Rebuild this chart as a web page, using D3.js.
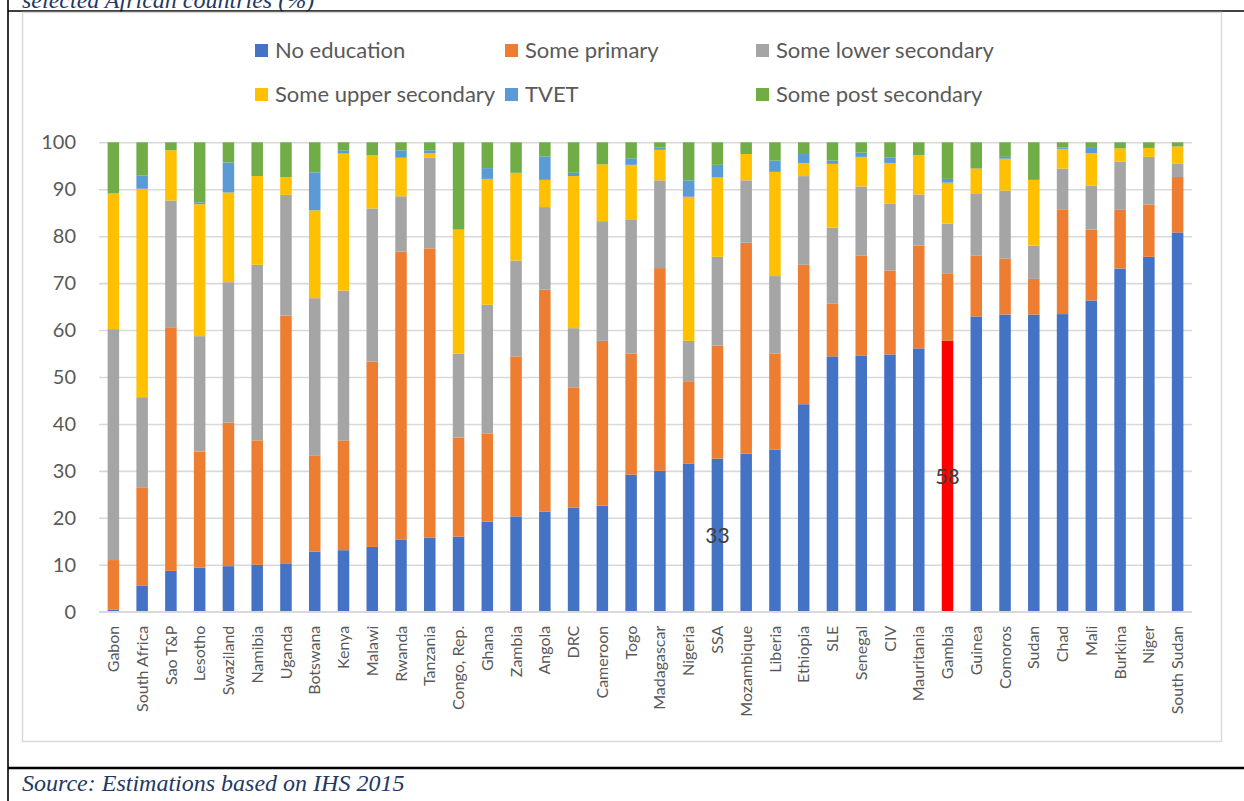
<!DOCTYPE html>
<html>
<head>
<meta charset="utf-8">
<script src="https://cdn.jsdelivr.net/npm/d3@7"></script>
<style>
  html, body { margin: 0; padding: 0; background: #fff; }
  svg { display: block; }
</style>
</head>
<body>
<svg id="chart" width="1244" height="801"></svg>
<script>
// Education attainment shares (%) by country, ordered by "No education"
const categories = ["Gabon","South Africa","Sao T&P","Lesotho","Swaziland","Namibia","Uganda","Botswana","Kenya","Malawi","Rwanda","Tanzania","Congo, Rep.","Ghana","Zambia","Angola","DRC","Cameroon","Togo","Madagascar","Nigeria","SSA","Mozambique","Liberia","Ethiopia","SLE","Senegal","CIV","Mauritania","Gambia","Guinea","Comoros","Sudan","Chad","Mali","Burkina","Niger","South Sudan"];

const noEducation = [0.4,5.5,8.7,9.4,9.7,10.0,10.3,12.8,13.1,13.8,15.4,15.8,16.0,19.2,20.3,21.3,22.2,22.6,29.2,30.0,31.5,32.6,33.7,34.5,44.2,54.4,54.5,54.8,56.1,57.7,62.9,63.3,63.3,63.4,66.3,73.1,75.6,80.8];
const somePrimary = [10.6,21.0,51.9,24.7,30.6,26.5,52.8,20.4,23.4,39.5,61.3,61.6,21.1,18.7,34.1,47.3,25.6,35.1,25.8,43.2,17.6,24.1,44.9,20.5,29.7,11.2,21.4,17.9,21.9,14.4,13.0,11.9,7.6,22.2,15.1,12.5,11.1,11.8];
const someLowerSecondary = [49.2,19.2,27.0,24.6,29.9,37.4,25.7,33.6,31.9,32.6,11.8,19.3,17.9,27.5,20.4,17.6,12.6,25.5,28.6,18.7,8.6,18.9,13.3,16.5,18.9,16.2,14.7,14.2,10.9,10.6,13.1,14.5,7.1,8.8,9.4,10.3,10.2,2.8];
const someUpperSecondary = [28.9,44.4,10.7,28.1,19.1,18.9,3.8,18.7,29.2,11.3,8.2,1.0,26.4,26.8,18.7,5.8,32.4,12.1,11.6,6.5,30.7,16.9,5.6,22.2,2.8,13.6,6.3,8.7,8.4,8.7,5.4,6.8,14.0,4.2,6.9,2.8,1.9,3.7];
const tvet = [0,2.8,0,0.4,6.4,0,0,8.1,0.7,0,1.6,0.6,0,2.3,0,5.0,0.7,0,1.4,0.5,3.5,2.7,0,2.4,1.9,0.7,0.9,1.2,0,0.8,0,0.4,0,0.3,1.1,0,0,0];
const somePostSecondary = [10.9,7.1,1.7,12.8,4.3,7.2,7.4,6.4,1.7,2.8,1.7,1.7,18.6,5.5,6.5,3.0,6.5,4.7,3.4,1.1,8.1,4.8,2.5,3.9,2.5,3.9,2.2,3.2,2.7,7.8,5.6,3.1,8.0,1.1,1.2,1.3,1.2,0.9];

const seriesNames = ["No education","Some primary","Some lower secondary","Some upper secondary","TVET","Some post secondary"];
const seriesColors = ["#4472C4","#ED7D31","#A5A5A5","#FFC000","#5B9BD5","#70AD47"];
const yTicks = [0,10,20,30,40,50,60,70,80,90,100];

// Countries whose "No education" share is highlighted and labelled
const highlighted = ["Gambia"];
const labelled = ["SSA","Gambia"];

const seriesValues = [noEducation, somePrimary, someLowerSecondary, someUpperSecondary, tvet, somePostSecondary];
const rows = categories.map((c, i) => {
  const r = { country: c };
  seriesNames.forEach((s, k) => { r[s] = seriesValues[k][i]; });
  return r;
});

const svg = d3.select("#chart");
const fontSans = "Lato, 'Open Sans', sans-serif";
const fontSerif = "'Liberation Serif', 'Times New Roman', serif";

svg.append("rect").attr("width", 1244).attr("height", 801).attr("fill", "#fff");

// Caption above the frame (runs off the top edge)
svg.append("text")
  .attr("x", 22).attr("y", 8)
  .attr("font-family", fontSerif).attr("font-style", "italic")
  .attr("font-size", 24).attr("fill", "#1F3864")
  .text("selected African countries (%)");

// Document frame lines
svg.append("line").attr("x1", 8).attr("x2", 8).attr("y1", 0).attr("y2", 801)
  .attr("stroke", "#000").attr("stroke-width", 1.6);
svg.append("line").attr("x1", 8).attr("x2", 1244).attr("y1", 11).attr("y2", 11)
  .attr("stroke", "#000").attr("stroke-width", 1.6);
svg.append("line").attr("x1", 8).attr("x2", 1244).attr("y1", 768).attr("y2", 768)
  .attr("stroke", "#000").attr("stroke-width", 2.4);

// Chart area border
svg.append("rect").attr("x", 22.5).attr("y", 12.5).attr("width", 1199).attr("height", 729)
  .attr("fill", "none").attr("stroke", "#D9D9D9").attr("stroke-width", 1.5);

// Source note
svg.append("text")
  .attr("x", 22).attr("y", 791)
  .attr("font-family", fontSerif).attr("font-style", "italic")
  .attr("font-size", 24).attr("fill", "#1F3864")
  .text("Source: Estimations based on IHS 2015");

// Plot scales
const plot = { left: 99, right: 1192, top: 142.3, bottom: 611.7 };
const x = d3.scaleBand().domain(categories).range([plot.left, plot.right])
  .paddingInner(0.6).paddingOuter(0.3);
const y = d3.scaleLinear().domain([0, 100]).range([plot.bottom, plot.top]);

// Gridlines and y labels
const yAxis = d3.axisLeft(y).tickValues(yTicks).tickSize(-(plot.right - plot.left)).tickPadding(23);
const gy = svg.append("g").attr("transform", `translate(${plot.left},0)`).call(yAxis);
gy.select(".domain").remove();
gy.selectAll(".tick line").attr("stroke", "#D9D9D9").attr("stroke-width", 1.6);
gy.selectAll(".tick text").attr("font-family", fontSans).attr("font-size", 20).attr("fill", "#595959");

// Stacked bars
const stack = d3.stack().keys(seriesNames);
const layers = stack(rows);
const gBars = svg.append("g");
layers.forEach((layer, k) => {
  gBars.append("g").selectAll("rect").data(layer).join("rect")
    .attr("x", d => x(d.data.country))
    .attr("width", x.bandwidth())
    .attr("y", d => y(d[1]))
    .attr("height", d => Math.max(0, y(d[0]) - y(d[1])))
    .attr("fill", d => (k === 0 && highlighted.includes(d.data.country)) ? "#FF0000" : seriesColors[k]);
});

// Value labels on the "No education" segment
const first = layers[0].filter(d => labelled.includes(d.data.country));
svg.append("g").selectAll("text").data(first).join("text")
  .attr("x", d => x(d.data.country) + x.bandwidth() / 2)
  .attr("y", d => y((d[0] + d[1]) / 2))
  .attr("dy", "0.35em")
  .attr("text-anchor", "middle")
  .attr("font-family", fontSans).attr("font-size", 21).attr("fill", "#404040")
  .text(d => d3.format(".0f")(d[1] - d[0]));

// Category axis
const xAxis = d3.axisBottom(x).tickSize(0).tickPadding(0);
const gx = svg.append("g").attr("transform", `translate(0,${plot.bottom})`).call(xAxis);
gx.select(".domain").attr("stroke", "#D9D9D9").attr("stroke-width", 1.6)
  .attr("d", `M${plot.left},0H${plot.right}`);
gx.selectAll(".tick text")
  .attr("font-family", fontSans).attr("font-size", 16).attr("fill", "#595959")
  .attr("text-anchor", "end")
  .attr("transform", "rotate(-90)")
  .attr("x", -14).attr("y", 0).attr("dy", "0.35em");

// Legend
const legendItems = [
  { name: seriesNames[0], color: seriesColors[0], x: 255, y: 44 },
  { name: seriesNames[1], color: seriesColors[1], x: 505, y: 44 },
  { name: seriesNames[2], color: seriesColors[2], x: 756, y: 44 },
  { name: seriesNames[3], color: seriesColors[3], x: 255, y: 88 },
  { name: seriesNames[4], color: seriesColors[4], x: 505, y: 88 },
  { name: seriesNames[5], color: seriesColors[5], x: 756, y: 88 }
];
const lg = svg.append("g").selectAll("g").data(legendItems).join("g")
  .attr("transform", d => `translate(${d.x},${d.y})`);
lg.append("rect").attr("width", 13).attr("height", 13).attr("fill", d => d.color);
lg.append("text").attr("x", 20).attr("y", 13.5)
  .attr("font-family", fontSans).attr("font-size", 22).attr("fill", "#595959")
  .text(d => d.name);
</script>
</body>
</html>
